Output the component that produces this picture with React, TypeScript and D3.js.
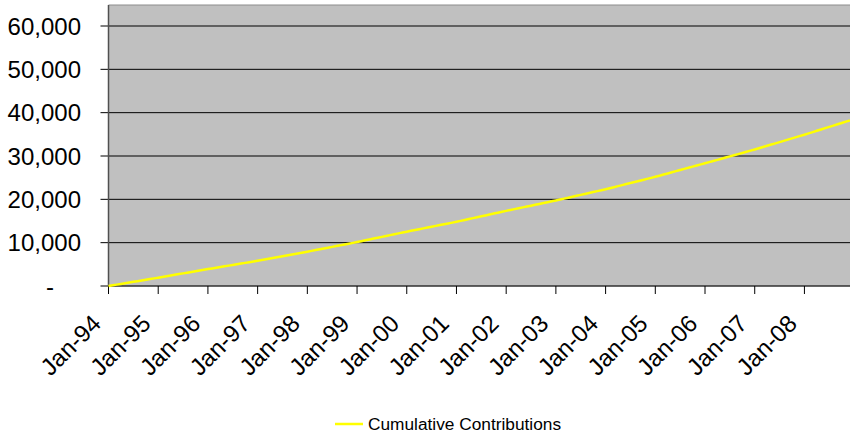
import React from "react";
import * as d3 from "d3";

// Monthly contribution amount paid in each calendar year, 1994–2008
const years = [1994, 1995, 1996, 1997, 1998, 1999, 2000, 2001, 2002, 2003, 2004, 2005, 2006, 2007, 2008];
const monthlyContribution = [160, 165, 160, 175, 185, 200, 190, 210, 200, 215, 240, 260, 265, 285, 300];

// Value axis ticks and category tick labels
const yTicks = [0, 10000, 20000, 30000, 40000, 50000, 60000];
const xTickLabels = ["Jan-94", "Jan-95", "Jan-96", "Jan-97", "Jan-98", "Jan-99", "Jan-00", "Jan-01",
  "Jan-02", "Jan-03", "Jan-04", "Jan-05", "Jan-06", "Jan-07", "Jan-08"];

const seriesName = "Cumulative Contributions";

// Running total at the start of each month, Jan-94 .. Dec-08
const cumulative: number[] = [];
{
  let total = 0;
  years.forEach((_, yi) => {
    for (let m = 0; m < 12; m++) {
      cumulative.push(total);
      total += monthlyContribution[yi];
    }
  });
}

const W = 850;
const H = 437;
const plot = { left: 108.5, right: 850, top: 5, bottom: 286 };
const FONT = "'Liberation Sans', Arial, sans-serif";

export default function App() {
  const x = d3.scaleLinear().domain([0, cumulative.length - 1]).range([plot.left, plot.right]);
  const y = d3.scaleLinear().domain([0, 60000]).range([plot.bottom, 26]);

  const line = d3
    .line<number>()
    .x((_, i) => x(i))
    .y((d) => y(d));

  const fmt = d3.format(",");

  return (
    <svg
      width={W}
      height={H}
      style={{ position: "absolute", left: 0, top: 0, background: "#fff" }}
      fontFamily={FONT}
    >
      {/* plot area */}
      <rect
        x={plot.left}
        y={plot.top}
        width={plot.right - plot.left}
        height={plot.bottom - plot.top}
        fill="#C0C0C0"
      />
      <line x1={plot.left} x2={plot.right} y1={plot.top} y2={plot.top} stroke="#8c8c8c" strokeWidth={1} />

      {/* gridlines, ticks and value labels */}
      {yTicks.map((t) => (
        <g key={t}>
          {t > 0 && (
            <line x1={plot.left} x2={plot.right} y1={y(t)} y2={y(t)} stroke="#000" strokeWidth={1} />
          )}
          <line x1={plot.left - 8} x2={plot.left} y1={y(t)} y2={y(t)} stroke="#000" strokeWidth={1} />
          <text
            x={t === 0 ? 54 : 81}
            y={y(t)}
            dy="0.36em"
            textAnchor="end"
            fontSize={24}
            fill="#000"
          >
            {t === 0 ? "-" : fmt(t)}
          </text>
        </g>
      ))}

      {/* axes */}
      <line x1={plot.left} x2={plot.left} y1={plot.top} y2={plot.bottom} stroke="#505050" strokeWidth={1.5} />
      <line x1={plot.left} x2={plot.right} y1={plot.bottom} y2={plot.bottom} stroke="#303030" strokeWidth={1.5} />

      {/* category ticks and rotated labels */}
      {xTickLabels.map((lab, i) => {
        const tx = x(i * 12);
        return (
          <g key={lab}>
            <line x1={tx} x2={tx} y1={plot.bottom} y2={plot.bottom + 8} stroke="#000" strokeWidth={1} />
            <text
              transform={`translate(${tx - 6},${plot.bottom + 39}) rotate(-45)`}
              textAnchor="end"
              fontSize={24}
              fill="#000"
            >
              {lab}
            </text>
          </g>
        );
      })}

      {/* series */}
      <path d={line(cumulative) ?? ""} fill="none" stroke="#FFFF00" strokeWidth={2.5} />

      {/* legend */}
      <line x1={335} x2={363} y1={424} y2={424} stroke="#FFFF00" strokeWidth={2.5} />
      <text x={368} y={429.5} fontSize={17.3} fill="#000">
        {seriesName}
      </text>
    </svg>
  );
}
